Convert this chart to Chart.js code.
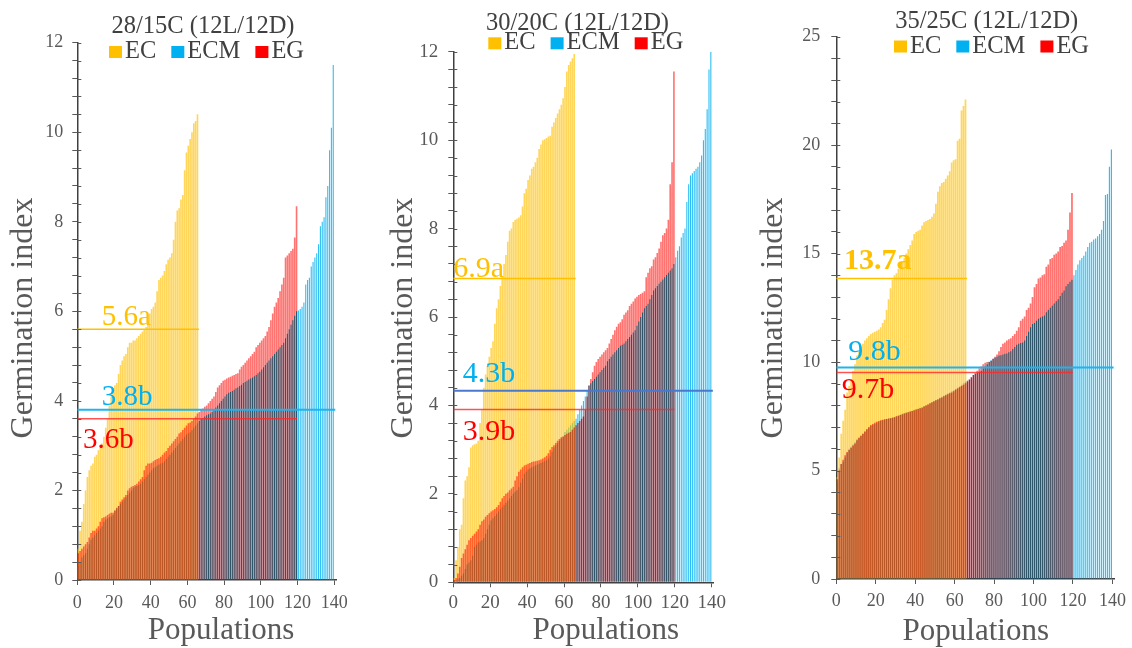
<!DOCTYPE html>
<html>
<head>
<meta charset="utf-8">
<title>Germination index by population</title>
<script src="https://cdn.jsdelivr.net/npm/chart.js@4.4.1/dist/chart.umd.min.js"></script>
<style>
  html, body { margin: 0; padding: 0; background: #fff; }
  #wrap { position: relative; width: 1132px; height: 648px; overflow: hidden; }
  canvas { position: absolute; top: 0; }
</style>
</head>
<body>
<div id="wrap">
  <canvas id="c28" width="372" height="648" style="left:0px"></canvas>
  <canvas id="c30" width="374" height="648" style="left:372px"></canvas>
  <canvas id="c35" width="386" height="648" style="left:746px"></canvas>
</div>
<script>
// series names / panel titles / axis ticks
const seriesNames = ['EC', 'ECM', 'EG'];
const panelTitles = ['28/15C (12L/12D)', '30/20C (12L/12D)', '35/25C (12L/12D)'];
const xTickValues = [0, 20, 40, 60, 80, 100, 120, 140];

// 28/15C - germination index per population, sorted within each group
const ec28 = [0.7, 1.1, 1.3, 1.7, 2.0, 2.3, 2.45, 2.55, 2.6, 2.75,
  2.8, 2.9, 3.0, 3.05, 3.2, 3.4, 3.6, 3.9, 4.1, 4.2,
  4.35, 4.4, 4.6, 4.8, 4.9, 5.0, 5.05, 5.2, 5.3, 5.3,
  5.35, 5.35, 5.4, 5.45, 5.5, 5.55, 5.6, 5.65, 5.8, 5.95,
  6.05, 6.1, 6.2, 6.45, 6.7, 6.75, 6.8, 6.9, 7.05, 7.15,
  7.2, 7.3, 7.6, 8.0, 8.25, 8.3, 8.5, 8.6, 9.15, 9.55,
  9.7, 9.85, 10.0, 10.2, 10.25, 10.4];
const ecm28 = [0.3, 0.4, 0.5, 0.55, 0.6, 0.7, 0.8, 0.9, 0.95, 1.0,
  1.05, 1.1, 1.15, 1.2, 1.3, 1.35, 1.38, 1.4, 1.42, 1.45,
  1.55, 1.62, 1.65, 1.7, 1.75, 1.8, 1.85, 1.9, 1.95, 2.0,
  2.05, 2.08, 2.1, 2.12, 2.15, 2.2, 2.25, 2.3, 2.35, 2.4,
  2.45, 2.5, 2.52, 2.55, 2.58, 2.6, 2.62, 2.65, 2.7, 2.75,
  2.8, 2.85, 2.9, 2.95, 3.0, 3.05, 3.1, 3.15, 3.2, 3.25,
  3.28, 3.3, 3.35, 3.4, 3.45, 3.5, 3.55, 3.6, 3.62, 3.65,
  3.68, 3.7, 3.72, 3.75, 3.8, 3.85, 3.9, 3.95, 4.0, 4.05,
  4.1, 4.15, 4.18, 4.2, 4.22, 4.25, 4.28, 4.3, 4.33, 4.36,
  4.4, 4.42, 4.45, 4.48, 4.5, 4.52, 4.55, 4.58, 4.62, 4.65,
  4.7, 4.75, 4.8, 4.85, 4.9, 4.95, 5.0, 5.05, 5.1, 5.15,
  5.2, 5.25, 5.3, 5.4, 5.5, 5.6, 5.7, 5.8, 5.9, 6.0,
  6.02, 6.05, 6.1, 6.2, 6.6, 6.7, 6.75, 7.0, 7.1, 7.2,
  7.3, 7.5, 7.9, 8.0, 8.1, 8.55, 8.8, 9.6, 10.1, 11.5];
const eg28 = [0.6, 0.65, 0.7, 0.75, 0.8, 0.85, 0.95, 1.05, 1.1, 1.1,
  1.15, 1.2, 1.3, 1.38, 1.4, 1.42, 1.45, 1.48, 1.5, 1.5,
  1.55, 1.6, 1.65, 1.75, 1.8, 1.85, 1.9, 2.0, 2.05, 2.08,
  2.1, 2.12, 2.15, 2.2, 2.25, 2.3, 2.45, 2.55, 2.6, 2.6,
  2.62, 2.65, 2.68, 2.7, 2.72, 2.75, 2.8, 2.85, 2.88, 2.95,
  3.0, 3.05, 3.1, 3.15, 3.2, 3.27, 3.3, 3.35, 3.4, 3.45,
  3.5, 3.52, 3.55, 3.6, 3.65, 3.72, 3.75, 3.8, 3.83, 3.87,
  3.9, 3.95, 4.0, 4.05, 4.1, 4.2, 4.3, 4.35, 4.4, 4.45,
  4.47, 4.5, 4.52, 4.54, 4.56, 4.58, 4.6, 4.62, 4.7, 4.76,
  4.8, 4.85, 4.9, 4.95, 5.0, 5.05, 5.1, 5.2, 5.25, 5.3,
  5.35, 5.4, 5.45, 5.55, 5.65, 5.8, 5.95, 6.1, 6.2, 6.3,
  6.45, 6.6, 6.75, 7.2, 7.25, 7.3, 7.35, 7.4, 7.65, 8.35];
const means28 = [5.6, 3.8, 3.6];
const meanLabels28 = ['5.6a', '3.8b', '3.6b'];

// 30/20C
const ec30 = [0.1, 0.5, 0.8, 1.2, 1.3, 1.9, 2.3, 2.4, 2.6, 3.05,
  3.1, 3.12, 3.14, 3.2, 3.6, 3.9, 4.4, 4.7, 4.9, 5.1,
  5.3, 5.45, 5.85, 6.2, 6.4, 6.7, 6.9, 7.2, 7.4, 7.7,
  7.95, 8.0, 8.15, 8.2, 8.22, 8.25, 8.3, 8.5, 8.8, 8.9,
  9.1, 9.2, 9.35, 9.4, 9.5, 9.6, 9.8, 9.9, 10.0, 10.02,
  10.05, 10.08, 10.1, 10.3, 10.4, 10.5, 10.6, 10.7, 10.8, 10.95,
  11.2, 11.55, 11.7, 11.78, 11.85, 11.95];
const ecm30 = [0.02, 0.05, 0.08, 0.1, 0.15, 0.2, 0.3, 0.4, 0.45, 0.5,
  0.6, 0.8, 0.85, 0.9, 0.92, 0.95, 1.0, 1.1, 1.2, 1.3,
  1.4, 1.45, 1.5, 1.55, 1.6, 1.65, 1.7, 1.75, 1.8, 1.85,
  1.9, 1.95, 2.0, 2.05, 2.08, 2.15, 2.25, 2.35, 2.45, 2.5,
  2.55, 2.58, 2.6, 2.62, 2.64, 2.66, 2.68, 2.7, 2.72, 2.74,
  2.76, 2.8, 2.85, 2.95, 3.05, 3.1, 3.15, 3.2, 3.25, 3.3,
  3.4, 3.45, 3.5, 3.55, 3.6, 3.65, 3.7, 3.8, 3.9, 4.0,
  4.1, 4.2, 4.35, 4.45, 4.5, 4.55, 4.6, 4.65, 4.7, 4.75,
  4.8, 4.85, 4.9, 5.0, 5.05, 5.1, 5.15, 5.2, 5.25, 5.3,
  5.35, 5.37, 5.4, 5.45, 5.5, 5.55, 5.6, 5.65, 5.7, 5.8,
  5.9, 6.0, 6.1, 6.2, 6.25, 6.3, 6.4, 6.5, 6.6, 6.65,
  6.7, 6.75, 6.8, 6.85, 6.9, 6.95, 7.0, 7.05, 7.1, 7.2,
  7.35, 7.5, 7.6, 7.8, 7.9, 8.0, 8.6, 9.0, 9.2, 9.25,
  9.3, 9.35, 9.4, 9.5, 9.65, 10.0, 10.25, 10.7, 11.6, 12.0];
const eg30 = [0.05, 0.1, 0.2, 0.35, 0.55, 0.65, 0.75, 0.85, 0.95, 1.0,
  1.05, 1.1, 1.15, 1.2, 1.3, 1.38, 1.42, 1.48, 1.52, 1.56,
  1.6, 1.63, 1.66, 1.7, 1.75, 1.82, 1.9, 1.95, 2.0, 2.03,
  2.08, 2.12, 2.16, 2.3, 2.4, 2.5, 2.55, 2.6, 2.64, 2.66,
  2.68, 2.7, 2.72, 2.73, 2.74, 2.75, 2.76, 2.78, 2.8, 2.83,
  2.86, 2.92, 3.0, 3.06, 3.1, 3.15, 3.2, 3.24, 3.28, 3.3,
  3.33, 3.36, 3.38, 3.4, 3.45, 3.5, 3.55, 3.6, 3.65, 3.7,
  3.75, 3.9, 4.2, 4.45, 4.6, 4.75, 4.9, 4.98, 5.05, 5.1,
  5.15, 5.2, 5.25, 5.3, 5.4, 5.5, 5.6, 5.7, 5.78, 5.85,
  5.88, 5.95, 6.05, 6.1, 6.15, 6.25, 6.3, 6.35, 6.42, 6.46,
  6.5, 6.52, 6.55, 6.58, 6.9, 7.0, 7.1, 7.15, 7.3, 7.35,
  7.45, 7.55, 7.7, 7.85, 7.9, 8.0, 8.2, 9.0, 9.5, 11.55];
const means30 = [6.87, 4.33, 3.91];
const meanLabels30 = ['6.9a', '4.3b', '3.9b'];

// 35/25C
const ec35 = [4.7, 5.6, 6.7, 7.3, 7.8, 8.6, 8.9, 9.2, 9.6, 9.9,
  10.3, 10.5, 10.7, 10.85, 11.0, 11.1, 11.2, 11.3, 11.35, 11.4,
  11.45, 11.5, 11.6, 11.8, 11.95, 12.4, 12.9, 13.4, 13.8, 14.0,
  14.1, 14.3, 14.5, 14.6, 14.8, 15.0, 15.2, 15.4, 15.6, 15.9,
  16.0, 16.05, 16.1, 16.3, 16.45, 16.5, 16.55, 16.6, 16.7, 16.85,
  17.3, 17.85, 18.1, 18.25, 18.3, 18.45, 18.6, 18.8, 19.2, 19.3,
  19.35, 20.2, 20.3, 21.6, 21.8, 22.1];
const ecm35 = [4.5, 5.1, 5.3, 5.4, 5.6, 5.8, 6.0, 6.1, 6.2, 6.3,
  6.45, 6.55, 6.6, 6.7, 6.8, 6.9, 7.0, 7.05, 7.1, 7.15,
  7.2, 7.25, 7.3, 7.32, 7.35, 7.38, 7.4, 7.42, 7.44, 7.47,
  7.5, 7.54, 7.58, 7.62, 7.65, 7.68, 7.7, 7.73, 7.76, 7.8,
  7.83, 7.86, 7.9, 7.93, 7.97, 8.01, 8.05, 8.1, 8.15, 8.2,
  8.25, 8.3, 8.35, 8.4, 8.45, 8.5, 8.55, 8.6, 8.65, 8.7,
  8.76, 8.82, 8.88, 8.95, 9.02, 9.1, 9.15, 9.2, 9.3, 9.4,
  9.45, 9.5, 9.55, 9.6, 9.7, 9.8, 9.9, 10.0, 10.1, 10.15,
  10.2, 10.25, 10.3, 10.32, 10.35, 10.38, 10.4, 10.45, 10.5, 10.6,
  10.7, 10.8, 10.85, 10.88, 10.9, 11.0, 11.2, 11.4, 11.6, 11.75,
  11.8, 11.9, 12.0, 12.05, 12.1, 12.15, 12.3, 12.4, 12.5, 12.6,
  12.7, 12.8, 12.9, 13.05, 13.2, 13.3, 13.5, 13.6, 13.7, 13.8,
  14.0, 14.25, 14.5, 14.7, 14.8, 14.9, 15.1, 15.3, 15.5, 15.55,
  15.65, 15.7, 15.8, 15.9, 16.1, 16.5, 17.7, 17.75, 19.0, 19.8];
const eg35 = [4.6, 5.0, 5.3, 5.5, 5.7, 5.85, 5.95, 6.05, 6.15, 6.25,
  6.4, 6.5, 6.6, 6.7, 6.8, 6.9, 7.0, 7.1, 7.15, 7.2,
  7.25, 7.28, 7.32, 7.34, 7.36, 7.38, 7.4, 7.41, 7.43, 7.46,
  7.5, 7.53, 7.56, 7.6, 7.63, 7.66, 7.69, 7.72, 7.75, 7.78,
  7.81, 7.84, 7.87, 7.9, 7.95, 8.0, 8.05, 8.1, 8.15, 8.2,
  8.24, 8.28, 8.33, 8.37, 8.42, 8.47, 8.52, 8.56, 8.6, 8.66,
  8.72, 8.78, 8.84, 8.9, 8.96, 9.02, 9.1, 9.2, 9.3, 9.4,
  9.5, 9.6, 9.7, 9.8, 9.9, 9.97, 10.0, 10.02, 10.05, 10.15,
  10.25, 10.35, 10.5, 10.7, 10.85, 10.9, 11.0, 11.05, 11.1, 11.2,
  11.3, 11.45, 11.6, 11.9, 12.0, 12.1, 12.4, 12.5, 12.7, 13.0,
  13.45, 13.6, 13.85, 13.9, 14.0, 14.05, 14.4, 14.5, 14.75, 14.8,
  14.95, 15.0, 15.1, 15.3, 15.35, 15.5, 15.6, 16.1, 16.9, 17.8];
const means35 = [13.85, 9.75, 9.52];
const meanLabels35 = ['13.7a', '9.8b', '9.7b'];

// how far each mean line runs along the population axis (EC, ECM, EG)
const meanSpan = [66.3, 140.6, 119.8];

const SERIF = '"Liberation Serif", "Times New Roman", serif';
const legendColors = ['#FFC000', '#00B0F0', '#FF0000'];

function toPoints(values) {
  // bar i sits in the slot [i, i+1] of the population axis
  return values.map((v, i) => ({ x: i + 0.5, y: v }));
}

function isMultiple(v, step) {
  const r = Math.abs(v / step - Math.round(v / step));
  return r < 1e-6;
}

// white background, multiply blend for the EG bars, inner y ticks and all the text
const panelDecor = {
  id: 'panelDecor',
  beforeDraw(chart) {
    const ctx = chart.ctx;
    ctx.save();
    ctx.fillStyle = '#fff';
    ctx.fillRect(0, 0, chart.width, chart.height);
    ctx.restore();
  },
  beforeDatasetDraw(chart, args) {
    if (chart.data.datasets[args.index].label === 'EG') {
      chart.ctx.save();
      chart.ctx.globalCompositeOperation = 'multiply';
    }
  },
  afterDatasetDraw(chart, args) {
    if (chart.data.datasets[args.index].label === 'EG') {
      chart.ctx.restore();
    }
  },
  afterDraw(chart, args, o) {
    const ctx = chart.ctx;
    const yScale = chart.scales.y;
    const area = chart.chartArea;
    ctx.save();

    // the original ticks poke a few px into the plot too
    ctx.strokeStyle = '#595959';
    ctx.lineWidth = 1;
    ctx.beginPath();
    yScale.ticks.forEach(t => {
      const py = Math.round(yScale.getPixelForValue(t.value)) + 0.5;
      ctx.moveTo(area.left, py);
      ctx.lineTo(area.left + 4, py);
    });
    ctx.stroke();

    // title
    ctx.fillStyle = '#404040';
    ctx.font = '24.5px ' + SERIF;
    ctx.textAlign = 'center';
    ctx.textBaseline = 'alphabetic';
    ctx.fillText(o.title, o.titleX, o.titleY);

    // legend
    ctx.textAlign = 'left';
    let x = o.legendX;
    for (let i = 0; i < seriesNames.length; i++) {
      ctx.fillStyle = legendColors[i];
      ctx.fillRect(x, o.legendY - 12, 13, 12);
      x += 16;
      ctx.fillStyle = '#404040';
      ctx.fillText(seriesNames[i], x, o.legendY);
      x += ctx.measureText(seriesNames[i]).width + 15;
    }

    // axis titles
    ctx.fillStyle = '#595959';
    ctx.font = '32px ' + SERIF;
    ctx.textAlign = 'center';
    ctx.save();
    ctx.translate(o.yTitleX, o.yTitleY);
    ctx.rotate(-Math.PI / 2);
    ctx.fillText('Germination index', 0, 0);
    ctx.restore();
    ctx.font = '31px ' + SERIF;
    ctx.fillText('Populations', o.xTitleX, o.xTitleY);

    // mean labels
    ctx.textAlign = 'left';
    for (let i = 0; i < o.meanLabels.length; i++) {
      ctx.fillStyle = o.labelColors[i];
      ctx.font = (o.boldFirst && i === 0 ? 'bold ' : '') + o.labelSize + 'px ' + SERIF;
      const y = yScale.getPixelForValue(o.means[i]) + o.labelDy[i];
      ctx.fillText(o.meanLabels[i], area.left + o.labelDx[i], y);
    }
    ctx.restore();
  }
};

function makePanel(canvasId, p) {
  const ctx = document.getElementById(canvasId);

  const barCommon = {
    type: 'bar',
    grouped: false,
    barPercentage: 0.88,
    categoryPercentage: 1,
    borderWidth: 0
  };
  const lineCommon = {
    type: 'line',
    pointRadius: 0,
    fill: false,
    order: 0
  };

  const data = {
    datasets: [
      Object.assign({}, barCommon, { label: 'EG', data: toPoints(p.eg), backgroundColor: 'rgb(255,115,112)', order: 1 }),
      Object.assign({}, barCommon, { label: 'EC', data: toPoints(p.ec), backgroundColor: 'rgba(255,192,0,0.65)', order: 2 }),
      // ECM bars narrower so the red shows through beside them
      Object.assign({}, barCommon, { label: 'ECM', data: toPoints(p.ecm), backgroundColor: 'rgba(0,176,240,0.82)', barPercentage: 0.6, order: 3 }),
      Object.assign({}, lineCommon, {
        label: 'EC mean', borderColor: '#FFC000', borderWidth: 1.5,
        data: [{ x: 0, y: p.means[0] }, { x: meanSpan[0], y: p.means[0] }]
      }),
      Object.assign({}, lineCommon, {
        label: 'ECM mean', borderColor: p.blueLine, borderWidth: 2,
        data: [{ x: 0, y: p.means[1] }, { x: meanSpan[1], y: p.means[1] }]
      }),
      Object.assign({}, lineCommon, {
        label: 'EG mean', borderColor: 'rgba(255,40,40,0.8)', borderWidth: 1.5,
        data: [{ x: 0, y: p.means[2] }, { x: meanSpan[2], y: p.means[2] }]
      })
    ]
  };

  const tickFont = { family: SERIF, size: p.tickSize };

  const config = {
    type: 'bar',
    data: data,
    options: {
      responsive: false,
      animation: false,
      events: [],
      layout: { padding: { left: 0, right: p.padRight, top: p.padTop, bottom: 0 } },
      plugins: {
        legend: { display: false },
        tooltip: { enabled: false },
        title: { display: false },
        panelDecor: p.decor
      },
      scales: {
        x: {
          type: 'linear',
          min: 0,
          max: 141,
          offset: false,
          afterBuildTicks: s => { s.ticks = xTickValues.map(v => ({ value: v })); },
          afterFit: s => { s.height = p.xHeight; },
          ticks: { autoSkip: false, maxRotation: 0, color: '#595959', font: tickFont, padding: p.xPad },
          grid: { offset: false, drawOnChartArea: false, tickLength: 5, color: '#595959' },
          border: { color: '#404040', width: 1.5 }
        },
        y: {
          type: 'linear',
          min: 0,
          max: p.yMax,
          afterFit: s => { s.width = p.yWidth; },
          ticks: {
            stepSize: p.minorStep,
            autoSkip: false,
            color: '#595959',
            font: tickFont,
            padding: p.yPad,
            callback: v => isMultiple(v, p.majorStep) ? String(Math.round(v)) : ''
          },
          grid: { drawOnChartArea: false, tickLength: 5, color: '#595959' },
          border: { color: '#404040', width: 1.5 }
        }
      }
    },
    plugins: [panelDecor]
  };

  return new Chart(ctx, config);
}

const redText = '#FF0000';
const blueText = '#00B0F0';
const yellowText = '#FFC000';

makePanel('c28', {
  ec: ec28, ecm: ecm28, eg: eg28, means: means28,
  yMax: 12, minorStep: 0.4, majorStep: 2,
  yWidth: 77.3, padRight: 36, padTop: 42.7, xHeight: 68,
  tickSize: 18, xPad: 7, yPad: 9, blueLine: '#1EB4EE',
  decor: {
    title: panelTitles[0], titleX: 203, titleY: 33,
    legendX: 109, legendY: 58,
    yTitleX: 32, yTitleY: 318, xTitleX: 221, xTitleY: 639,
    means: means28, meanLabels: meanLabels28,
    labelColors: [yellowText, blueText, redText],
    labelSize: 29, labelDx: [24.4, 24.4, 5.7], labelDy: [-4, -5, 29], boldFirst: false
  }
});

makePanel('c30', {
  ec: ec30, ecm: ecm30, eg: eg30, means: means30,
  yMax: 12, minorStep: 0.4, majorStep: 2,
  yWidth: 81.3, padRight: 32.4, padTop: 51.7, xHeight: 65.7,
  tickSize: 19, xPad: 4, yPad: 10, blueLine: '#4A78CC',
  decor: {
    title: panelTitles[1], titleX: 205.5, titleY: 30,
    legendX: 116.3, legendY: 49.3,
    yTitleX: 39.7, yTitleY: 318, xTitleX: 233.8, xTitleY: 639,
    means: means30, meanLabels: meanLabels30,
    labelColors: [yellowText, blueText, redText],
    labelSize: 30, labelDx: [0, 9.4, 9.4], labelDy: [-1.6, -9, 31], boldFirst: false
  }
});

makePanel('c35', {
  ec: ec35, ecm: ecm35, eg: eg35, means: means35,
  yMax: 25, minorStep: 1, majorStep: 5,
  yWidth: 90.3, padRight: 15, padTop: 36.7, xHeight: 69,
  tickSize: 18, xPad: 6, yPad: 11, blueLine: '#1EB4EE',
  decor: {
    title: panelTitles[2], titleX: 240.7, titleY: 28,
    legendX: 148, legendY: 52.5,
    yTitleX: 35.7, yTitleY: 318, xTitleX: 229.8, xTitleY: 640,
    means: means35, meanLabels: meanLabels35,
    labelColors: [yellowText, blueText, redText],
    labelSize: 30, labelDx: [7.7, 12, 5.4], labelDy: [-10, -7.7, 26], boldFirst: true
  }
});
</script>
</body>
</html>
